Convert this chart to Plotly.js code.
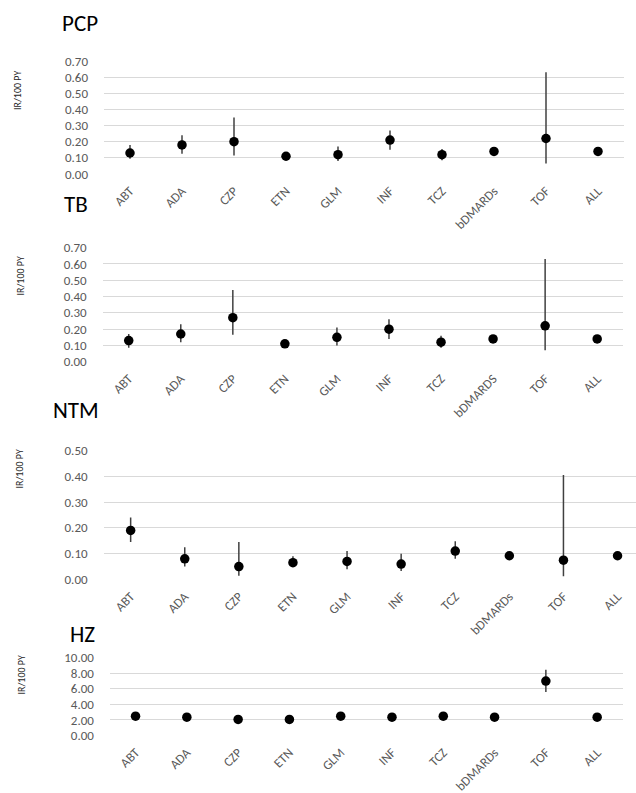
<!DOCTYPE html>
<html>
<head>
<meta charset="utf-8">
<script src="https://cdn.plot.ly/plotly-3.0.1.min.js"></script>
<style>html,body{margin:0;padding:0;background:#fff;}#chart{width:636px;height:793px;}</style>
</head>
<body>
<div id="chart"></div>
<script>
// ---- data ----
const categories = ["ABT","ADA","CZP","ETN","GLM","INF","TCZ","bDMARDs","TOF","ALL"];
const categoriesTB = ["ABT","ADA","CZP","ETN","GLM","INF","TCZ","bDMARDS","TOF","ALL"];

const pcpIR   = [0.13, 0.18, 0.20, 0.11, 0.12, 0.21, 0.12, 0.14, 0.22, 0.14];
const pcpHigh = [0.18, 0.24, 0.35, 0.13, 0.17, 0.27, 0.155, 0.155, 0.63, 0.155];
const pcpLow  = [0.095, 0.125, 0.115, 0.09, 0.08, 0.15, 0.085, 0.12, 0.065, 0.125];

const tbIR    = [0.13, 0.17, 0.27, 0.11, 0.15, 0.20, 0.12, 0.14, 0.22, 0.14];
const tbHigh  = [0.17, 0.23, 0.44, 0.13, 0.21, 0.26, 0.16, 0.16, 0.63, 0.16];
const tbLow   = [0.085, 0.12, 0.165, 0.09, 0.10, 0.14, 0.085, 0.125, 0.07, 0.125];

const ntmIR   = [0.19, 0.08, 0.05, 0.065, 0.07, 0.06, 0.11, 0.092, 0.075, 0.092];
const ntmHigh = [0.24, 0.125, 0.145, 0.09, 0.11, 0.10, 0.148, 0.10, 0.405, 0.10];
const ntmLow  = [0.145, 0.05, 0.015, 0.05, 0.04, 0.033, 0.08, 0.083, 0.013, 0.083];

const hzIR    = [2.49, 2.36, 2.06, 2.06, 2.49, 2.36, 2.49, 2.36, 7.00, 2.36];
const hzHigh  = [2.70, 2.55, 2.30, 2.25, 2.70, 2.55, 2.70, 2.45, 8.45, 2.42];
const hzLow   = [2.30, 2.20, 1.85, 1.90, 2.30, 2.20, 2.30, 2.28, 5.60, 2.30];

const panelTitles = ["PCP", "TB", "NTM", "HZ"];
const yTitle = "IR/100 PY";

// ---- build ----
const W = 636, H = 793;
const FONT = "Carlito, Calibri, Lato, sans-serif";
const panels = [
  {cats: categories,   ir: pcpIR, hi: pcpHigh, lo: pcpLow, yr:[0,0.7],  dt:0.1,
   xd:[104,624], yd:[61,174],  xr:[-0.5,9.5],  title:[60,23],  ylab:[17,91]},
  {cats: categoriesTB, ir: tbIR,  hi: tbHigh,  lo: tbLow,  yr:[0,0.7],  dt:0.1,
   xd:[102.7,623.2], yd:[247.7,361.7], xr:[-0.5,9.5], title:[62,203.5], ylab:[20,276.5]},
  {cats: categories,   ir: ntmIR, hi: ntmHigh, lo: ntmLow, yr:[0,0.5],  dt:0.1,
   xd:[103.6,636], yd:[450.5,579.5], xr:[-0.5,-0.5+(636-103.6)/54.1], title:[51,409.5], ylab:[18.5,469]},
  {cats: categories,   ir: hzIR,  hi: hzHigh,  lo: hzLow,  yr:[0,10],   dt:2,
   xd:[109.9,622.8], yd:[657.7,735.5], xr:[-0.5,9.5], title:[68,633.5], ylab:[20.5,675]}
];

const traces = [];
const layout = {
  width: W, height: H, autosize: false,
  margin: {l:0, r:0, t:0, b:0},
  paper_bgcolor: "#ffffff", plot_bgcolor: "#ffffff",
  showlegend: false,
  font: {family: FONT, color: "#595959"},
  annotations: []
};

panels.forEach((p, i) => {
  const n = i + 1;
  const xa = n === 1 ? "x" : "x" + n;
  const ya = n === 1 ? "y" : "y" + n;
  traces.push({
    type: "scatter", mode: "markers",
    x: p.cats, y: p.ir, xaxis: xa, yaxis: ya,
    cliponaxis: false,
    marker: {color: "#000000", size: 9.5},
    error_y: {
      type: "data", symmetric: false,
      array: p.hi.map((h, k) => h - p.ir[k]),
      arrayminus: p.ir.map((v, k) => v - p.lo[k]),
      color: "#404040", thickness: 1.5, width: 0
    },
    hoverinfo: "skip"
  });
  layout["xaxis" + (n === 1 ? "" : n)] = {
    domain: [p.xd[0] / W, p.xd[1] / W],
    anchor: ya, type: "category", range: p.xr,
    showgrid: false, zeroline: false, showline: false, ticks: "",
    tickangle: -45, ticklabelstandoff: 6,
    tickfont: {family: FONT, size: 13, color: "#595959"},
    fixedrange: true
  };
  layout["yaxis" + (n === 1 ? "" : n)] = {
    domain: [1 - p.yd[1] / H, 1 - p.yd[0] / H],
    anchor: xa, range: p.yr, dtick: p.dt, tick0: 0, tickformat: ".2f",
    showgrid: true, gridcolor: "#d9d9d9", gridwidth: 1,
    zeroline: false, showline: false, ticks: "",
    ticklabelstandoff: 15,
    tickfont: {family: FONT, size: 13, color: "#595959"},
    fixedrange: true
  };
  layout.annotations.push({
    xref: "paper", yref: "paper", x: p.title[0] / W, y: 1 - p.title[1] / H,
    xanchor: "left", yanchor: "middle", showarrow: false,
    text: panelTitles[i], font: {family: FONT, size: 23, color: "#000000"}
  });
  layout.annotations.push({
    xref: "paper", yref: "paper", x: p.ylab[0] / W, y: 1 - p.ylab[1] / H,
    xanchor: "center", yanchor: "middle", showarrow: false, textangle: -90,
    text: yTitle, font: {family: FONT, size: 10, color: "#262626"}
  });
});

Plotly.newPlot("chart", traces, layout, {displayModeBar: false, staticPlot: true});
</script>
</body>
</html>
